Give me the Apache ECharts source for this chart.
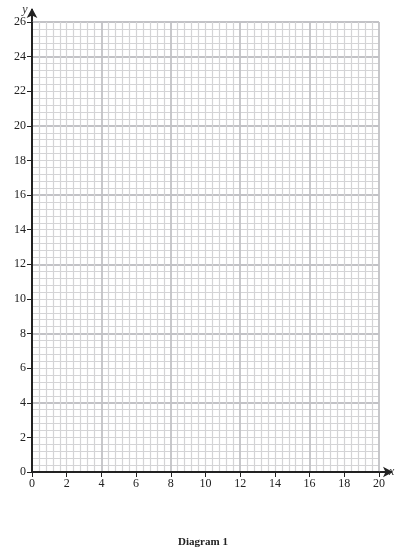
<!DOCTYPE html>
<html>
<head>
<meta charset="utf-8">
<script src="https://cdn.jsdelivr.net/npm/echarts@6/dist/echarts.min.js"></script>
<style>
  html, body { margin: 0; padding: 0; background: #fff; }
  #chart { width: 406px; height: 550px; }
</style>
</head>
<body>
<div id="chart"></div>
<script>
// axis ranges and labels
const xRange = [0, 20];
const yRange = [0, 26];
const labelStep = 2;
const gridStep = 4;
const minorPerGrid = 10;
const caption = 'Diagram 1';

const chart = echarts.init(document.getElementById('chart'));

const font = 'Liberation Serif';
const minorLine = { show: true, lineStyle: { color: '#d4d4d6', width: 1.2 } };
const majorLine = { show: true, lineStyle: { color: '#c2c2c6', width: 1.8 } };

// grid-only axis (hidden labels) used for the graph paper
function paperAxis(range, pos) {
    return {
        type: 'value', min: range[0], max: range[1], interval: gridStep, position: pos,
        axisLine: { show: false }, axisTick: { show: false }, axisLabel: { show: false },
        splitLine: majorLine,
        minorTick: { show: false, splitNumber: minorPerGrid },
        minorSplitLine: minorLine
    };
}

// labelled axis
function labelAxis(range, name, isX) {
    return {
        type: 'value', min: range[0], max: range[1], interval: labelStep,
        name: name, nameLocation: 'end', nameGap: isX ? 10 : 6,
        nameTextStyle: { fontFamily: font, fontStyle: 'italic', fontSize: 12, color: '#333',
            padding: isX ? [0, 0, 14, 0] : [0, 0, 0, -14] },
        axisLine: { show: true, onZero: false, lineStyle: { color: '#222', width: 2 },
            symbol: ['none', 'arrow'], symbolSize: [8, 10], symbolOffset: [0, 14] },
        axisTick: { show: true, length: 5, lineStyle: { color: '#222' } },
        axisLabel: { fontFamily: font, fontSize: 12, color: '#222', margin: 6 },
        splitLine: { show: false }
    };
}

const option = {
    animation: false,
    grid: { left: 32, right: 27, top: 22, bottom: 78 },
    xAxis: [labelAxis(xRange, 'x', true), paperAxis(xRange, 'top')],
    yAxis: [labelAxis(yRange, 'y', false), paperAxis(yRange, 'right')],
    title: {
        text: caption, left: 'center', top: 532,
        textStyle: { fontFamily: font, fontSize: 11, fontWeight: 'bold', color: '#222' }
    },
    graphic: [
        // extend axis lines to the arrows
        { type: 'line', shape: { x1: 379, y1: 472, x2: 392, y2: 472 }, style: { stroke: '#222', lineWidth: 2 } },
        { type: 'line', shape: { x1: 32, y1: 22, x2: 32, y2: 9 }, style: { stroke: '#222', lineWidth: 2 } }
    ],
    series: [{ type: 'line', data: [] }]
};

chart.setOption(option);
</script>
</body>
</html>
